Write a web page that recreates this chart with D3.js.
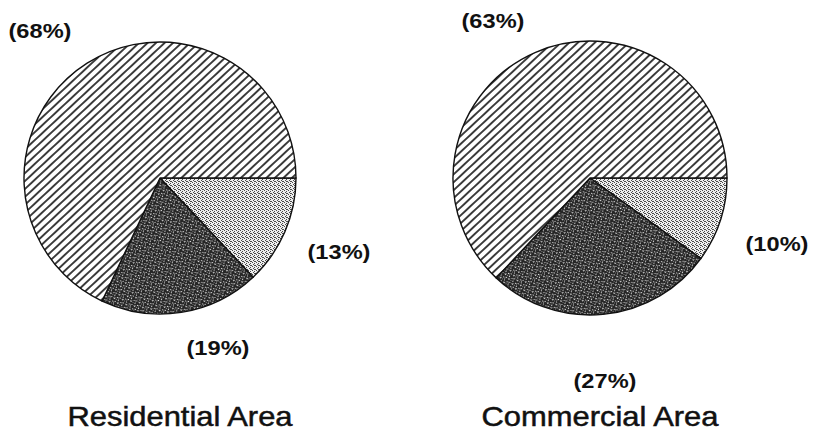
<!DOCTYPE html>
<html>
<head>
<meta charset="utf-8">
<script src="https://cdn.jsdelivr.net/npm/d3@7"></script>
<style>
  html, body { margin: 0; padding: 0; background: #fff; }
  svg { display: block; }
</style>
</head>
<body>
<svg id="chart" width="818" height="435"></svg>
<script>
// ---------- data ----------
const areas = ["Residential Area", "Commercial Area"];
const segmentNames = ["Light stipple", "Dark stipple", "Hatched"];
const residentialValues = [13, 19, 68];
const commercialValues = [10, 27, 63];
const residentialLabels = ["(13%)", "(19%)", "(68%)"];
const commercialLabels = ["(10%)", "(27%)", "(63%)"];

// ---------- layout (positions / styles) ----------
const pieLayout = [
  { cx: 160, cy: 178, r: 136, titleX: 180, titleLen: 225,
    labelOffsets: [[179, 81], [58, 177], [-120, -140]] },
  { cx: 590, cy: 178, r: 137, titleX: 600, titleLen: 237,
    labelOffsets: [[187, 73], [15, 210], [-97, -150]] }
];
const titleBaseline = 426;

const svg = d3.select("#chart");
const defs = svg.append("defs");

// hatched pattern
const hatch = defs.append("pattern")
  .attr("id", "hatch").attr("patternUnits", "userSpaceOnUse")
  .attr("width", 10).attr("height", 5.8)
  .attr("patternTransform", "rotate(-43)");
hatch.append("rect").attr("width", 10).attr("height", 5.8).attr("fill", "#fff");
hatch.append("line").attr("x1", 0).attr("x2", 10).attr("y1", 2.9).attr("y2", 2.9)
  .attr("stroke", "#111").attr("stroke-width", 1.6);

// light stipple pattern
const light = defs.append("pattern")
  .attr("id", "light").attr("patternUnits", "userSpaceOnUse")
  .attr("width", 4).attr("height", 4);
light.append("rect").attr("width", 4).attr("height", 4).attr("fill", "#eeeeee");
[[0,0],[2,1],[1,2],[3,3],[2,3]].forEach(([x,y]) =>
  light.append("rect").attr("x", x).attr("y", y).attr("width", 1).attr("height", 1).attr("fill", "#4a4a4a"));

// dark stipple pattern
const dark = defs.append("pattern")
  .attr("id", "dark").attr("patternUnits", "userSpaceOnUse")
  .attr("width", 6).attr("height", 6)
  .attr("patternTransform", "rotate(-35)");
dark.append("rect").attr("width", 6).attr("height", 6).attr("fill", "#262626");
[[1,0],[4,1],[0,3],[3,4]].forEach(([x,y]) =>
  dark.append("rect").attr("x", x).attr("y", y).attr("width", 1).attr("height", 1).attr("fill", "#e0e0e0"));
[[2,0],[5,2],[1,5],[4,3],[2,2]].forEach(([x,y]) =>
  dark.append("rect").attr("x", x).attr("y", y).attr("width", 1).attr("height", 1).attr("fill", "#8a8a8a"));

const fills = ["url(#light)", "url(#dark)", "url(#hatch)"];

const pie = d3.pie().sort(null).value(d => d)
  .startAngle(Math.PI / 2).endAngle(Math.PI / 2 + 2 * Math.PI);

const allValues = [residentialValues, commercialValues];
const allLabels = [residentialLabels, commercialLabels];

areas.forEach((area, i) => {
  const L = pieLayout[i];
  const arc = d3.arc().innerRadius(0).outerRadius(L.r);
  const g = svg.append("g").attr("transform", `translate(${L.cx},${L.cy})`);
  const arcs = pie(allValues[i]);

  g.selectAll("path.slice").data(arcs).join("path")
    .attr("class", "slice")
    .attr("d", arc)
    .attr("fill", (d, j) => fills[j])
    .attr("stroke", "#111")
    .attr("stroke-width", 1.4)
    .attr("stroke-linejoin", "round");

  // percentage labels
  g.selectAll("text.pct").data(arcs).join("text")
    .attr("class", "pct")
    .attr("x", (d, j) => L.labelOffsets[j][0])
    .attr("y", (d, j) => L.labelOffsets[j][1])
    .attr("text-anchor", "middle")
    .attr("font-family", "'Liberation Sans', Arial, sans-serif")
    .attr("font-weight", "bold")
    .attr("font-size", 21)
    .attr("textLength", 63)
    .attr("lengthAdjust", "spacingAndGlyphs")
    .attr("fill", "#111")
    .text((d, j) => allLabels[i][j]);

  svg.append("text")
    .attr("x", L.titleX)
    .attr("y", titleBaseline)
    .attr("text-anchor", "middle")
    .attr("font-family", "'Liberation Sans', Arial, sans-serif")
    .attr("font-size", 28)
    .attr("textLength", L.titleLen)
    .attr("lengthAdjust", "spacingAndGlyphs")
    .attr("fill", "#111")
    .attr("stroke", "#111")
    .attr("stroke-width", 0.5)
    .text(area);
});
</script>
</body>
</html>
